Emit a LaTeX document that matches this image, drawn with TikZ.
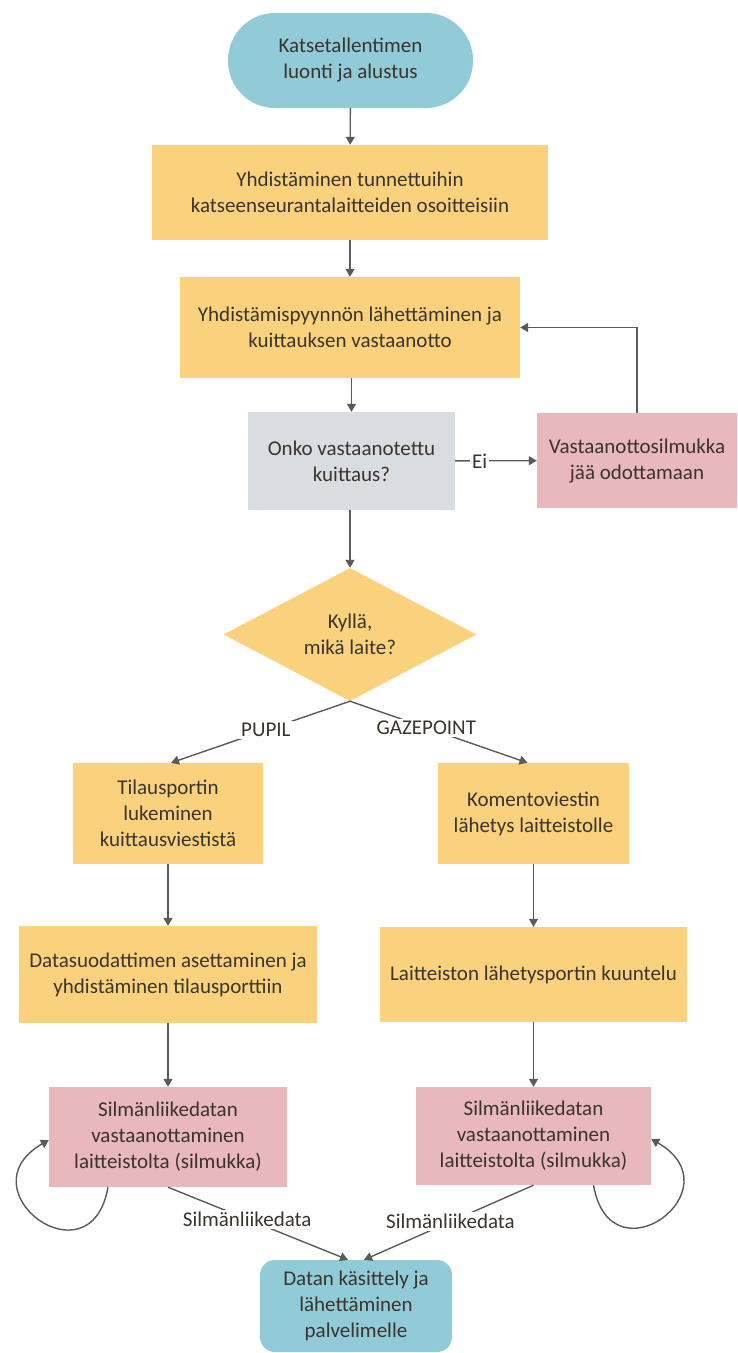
\documentclass[tikz,border=0pt]{standalone}
\usepackage{fontspec}
\setmainfont{Carlito}
\usetikzlibrary{shapes.geometric,arrows.meta}
\definecolor{cTeal}{RGB}{146,203,216}
\definecolor{cYel}{RGB}{250,210,126}
\definecolor{cPink}{RGB}{232,184,186}
\definecolor{cGray}{RGB}{217,221,226}
\definecolor{cLine}{RGB}{90,90,90}
\definecolor{cText}{RGB}{58,52,44}
\tikzset{
  base/.style={draw=none, align=center, text=cText, font=\fontsize{21}{26}\selectfont, inner sep=2pt},
  proc/.style={base, fill=cYel},
  loopbox/.style={base, fill=cPink},
  askbox/.style={base, fill=cGray},
  term/.style={base, fill=cTeal},
  conn/.style={draw=cLine, line width=1.4pt, -{Triangle[length=8pt,width=9pt]}},
  lbl/.style={fill=white, text=cText, font=\fontsize{21}{24}\selectfont, inner sep=2pt},
}
\begin{document}
\begin{tikzpicture}[x=1pt,y=-1pt]
\useasboundingbox (0,0) rectangle (737,1353);
\node[term, minimum width=245pt, minimum height=95pt, rounded corners=47pt] (start) at (350.5,60.5) {Katsetallentimen\\luonti ja alustus};
\node[proc, minimum width=396pt, minimum height=95pt] (b2) at (350,192.5) {Yhdistäminen tunnettuihin\\katseenseurantalaitteiden osoitteisiin};
\node[proc, minimum width=340pt, minimum height=101pt] (b3) at (350,327.5) {Yhdistämispyynnön lähettäminen ja\\kuittauksen vastaanotto};
\node[askbox, minimum width=207pt, minimum height=98pt] (ask) at (351.5,461) {Onko vastaanotettu\\kuittaus?};
\node[loopbox, minimum width=200pt, minimum height=95pt] (wait) at (637,460.5) {Vastaanottosilmukka\\jää odottamaan};
\node[base, fill=cYel, shape=diamond, inner sep=0pt, minimum width=253pt, minimum height=125pt] (dia) at (350,634.5) {Kyllä,\\mikä laite?};
\node[proc, minimum width=190pt, minimum height=101pt] (tilaus) at (168,813.5) {Tilausportin\\lukeminen\\kuittausviestistä};
\node[proc, minimum width=191pt, minimum height=101pt] (komento) at (533.5,813.5) {Komentoviestin\\lähetys laitteistolle};
\node[proc, minimum width=298pt, minimum height=97pt] (datas) at (168,974.5) {Datasuodattimen asettaminen ja\\yhdistäminen tilausporttiin};
\node[proc, minimum width=307pt, minimum height=95pt] (laitt) at (533.5,974.5) {Laitteiston lähetysportin kuuntelu};
\node[loopbox, minimum width=238pt, minimum height=100pt] (recvL) at (168,1137) {Silmänliikedatan\\vastaanottaminen\\laitteistolta (silmukka)};
\node[loopbox, minimum width=235pt, minimum height=98pt] (recvR) at (533.5,1136) {Silmänliikedatan\\vastaanottaminen\\laitteistolta (silmukka)};
\node[term, minimum width=192pt, minimum height=92pt, rounded corners=15pt] (fin) at (356,1306) {Datan käsittely ja\\lähettäminen\\palvelimelle};

\draw[conn] (start) -- (b2);
\draw[conn] (b2) -- (b3);
\draw[conn] (b3.south -| ask.north) -- (ask);
\draw[conn] (ask) -- node[lbl, pos=0.3] {Ei} (wait);
\draw[conn] (wait.north) |- (b3.east);
\draw[conn] (ask.south -| dia.north) -- (dia);
\draw[conn] (dia.south) -- node[lbl, pos=0.47] {PUPIL} ([xshift=3pt]tilaus.north);
\draw[conn] (dia.south) -- node[lbl, pos=0.43] {GAZEPOINT} ([xshift=-6pt]komento.north);
\draw[conn] (tilaus) -- (datas);
\draw[conn] (komento) -- (laitt);
\draw[conn] (datas) -- (recvL);
\draw[conn] (laitt) -- (recvR);
\draw[conn] (recvL.south) -- node[lbl, pos=0.44] {Silmänliikedata} ([xshift=-8pt]fin.north);
\draw[conn] (recvR.south) -- node[lbl, pos=0.49] {Silmänliikedata} ([xshift=8pt]fin.north);
\draw[conn] ([xshift=-60pt]recvL.south) to[out=-100, in=210, distance=100pt] ([yshift=-3pt]recvL.west);
\draw[conn] ([xshift=60pt]recvR.south) to[out=-80, in=-30, distance=100pt] ([yshift=-3pt]recvR.east);
\end{tikzpicture}
\end{document}
